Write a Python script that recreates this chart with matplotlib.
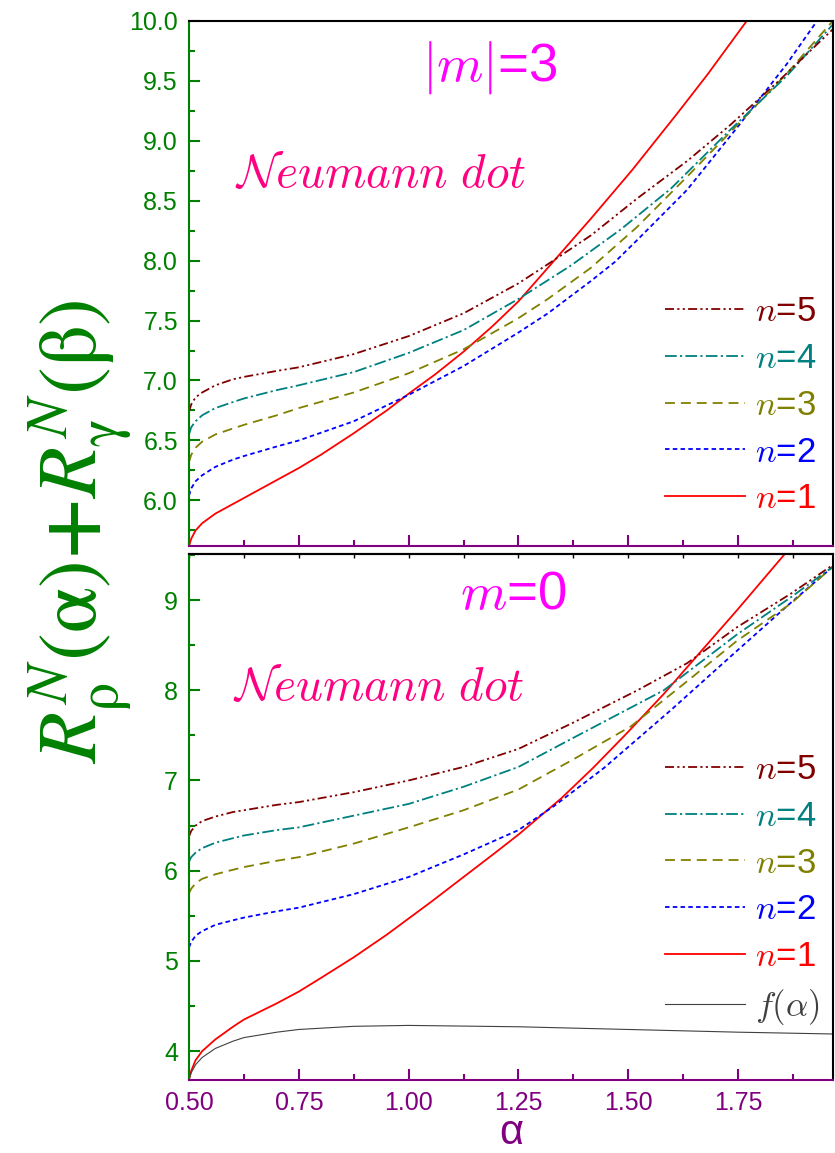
import numpy as np
import matplotlib
matplotlib.use('Agg')
import matplotlib.pyplot as plt
from matplotlib.ticker import MultipleLocator, FormatStrFormatter

plt.rcParams['font.family'] = ['Liberation Sans', 'DejaVu Sans']
plt.rcParams['mathtext.fontset'] = 'cm'

# Panel superior |m|=3
a1_m3 = [0.5, 0.505, 0.515, 0.53, 0.56, 0.6, 0.625, 0.7, 0.75, 0.8, 0.875, 0.95, 1.0, 1.06, 1.125, 1.19, 1.25, 1.317, 1.415, 1.51, 1.61, 1.68, 1.77, 1.80]
n1_m3 = [5.62, 5.68, 5.75, 5.81, 5.89, 5.97, 6.02, 6.17, 6.27, 6.38, 6.56, 6.75, 6.89, 7.05, 7.24, 7.45, 7.66, 7.94, 8.35, 8.76, 9.22, 9.55, 10.0, 10.14]
a2_m3 = [0.5, 0.505, 0.515, 0.53, 0.56, 0.6, 0.625, 0.7, 0.75, 0.875, 1.0, 1.125, 1.25, 1.317, 1.415, 1.47, 1.52, 1.634, 1.748, 1.861, 1.93, 1.95]
n2_m3 = [6.04, 6.10, 6.16, 6.21, 6.28, 6.34, 6.37, 6.45, 6.50, 6.66, 6.88, 7.12, 7.40, 7.56, 7.83, 7.99, 8.17, 8.59, 9.11, 9.64, 10.0, 10.1]
a3_m3 = [0.5, 0.505, 0.515, 0.53, 0.56, 0.6, 0.625, 0.7, 0.75, 0.875, 1.0, 1.125, 1.25, 1.317, 1.415, 1.52, 1.634, 1.748, 1.861, 1.966]
n3_m3 = [6.32, 6.38, 6.44, 6.49, 6.55, 6.60, 6.63, 6.71, 6.77, 6.90, 7.06, 7.26, 7.52, 7.68, 7.94, 8.28, 8.70, 9.13, 9.56, 10.0]
a4_m3 = [0.5, 0.505, 0.515, 0.53, 0.56, 0.6, 0.625, 0.7, 0.75, 0.875, 1.0, 1.125, 1.25, 1.37, 1.483, 1.597, 1.732, 1.861, 1.966]
n4_m3 = [6.55, 6.61, 6.66, 6.71, 6.77, 6.82, 6.85, 6.92, 6.96, 7.07, 7.23, 7.42, 7.68, 7.96, 8.26, 8.60, 9.09, 9.54, 9.97]
a5_m3 = [0.5, 0.505, 0.515, 0.53, 0.56, 0.6, 0.625, 0.7, 0.75, 0.875, 1.0, 1.125, 1.25, 1.317, 1.415, 1.521, 1.634, 1.732, 1.846, 1.966]
n5_m3 = [6.74, 6.80, 6.86, 6.90, 6.96, 7.01, 7.03, 7.08, 7.11, 7.22, 7.37, 7.56, 7.81, 7.97, 8.21, 8.52, 8.83, 9.13, 9.51, 9.93]

# Panel inferior m=0
a1_m0 = [0.5, 0.505, 0.515, 0.53, 0.56, 0.6, 0.625, 0.7, 0.75, 0.8, 0.875, 0.95, 1.0, 1.05, 1.125, 1.2, 1.25, 1.347, 1.42, 1.498, 1.581, 1.642, 1.748, 1.858, 1.87]
n1_m0 = [3.685, 3.78, 3.90, 4.00, 4.13, 4.27, 4.35, 4.53, 4.66, 4.81, 5.04, 5.29, 5.47, 5.65, 5.93, 6.21, 6.40, 6.80, 7.14, 7.53, 7.96, 8.30, 8.89, 9.52, 9.60]
a2_m0 = [0.5, 0.505, 0.515, 0.53, 0.56, 0.6, 0.625, 0.7, 0.75, 0.875, 1.0, 1.125, 1.25, 1.332, 1.445, 1.597, 1.748, 1.87, 1.966]
n2_m0 = [5.15, 5.21, 5.28, 5.33, 5.40, 5.45, 5.48, 5.55, 5.59, 5.74, 5.93, 6.18, 6.45, 6.72, 7.14, 7.78, 8.44, 8.97, 9.37]
a3_m0 = [0.5, 0.505, 0.515, 0.53, 0.56, 0.6, 0.625, 0.7, 0.75, 0.875, 1.0, 1.125, 1.25, 1.37, 1.506, 1.634, 1.748, 1.87, 1.966]
n3_m0 = [5.75, 5.80, 5.86, 5.91, 5.96, 6.01, 6.04, 6.11, 6.15, 6.30, 6.48, 6.67, 6.90, 7.22, 7.60, 8.10, 8.55, 8.96, 9.37]
a4_m0 = [0.5, 0.505, 0.515, 0.53, 0.56, 0.6, 0.625, 0.7, 0.75, 0.875, 1.0, 1.125, 1.25, 1.37, 1.581, 1.748, 1.87, 1.966]
n4_m0 = [6.10, 6.15, 6.20, 6.25, 6.31, 6.36, 6.39, 6.45, 6.48, 6.61, 6.74, 6.93, 7.15, 7.46, 8.0, 8.62, 9.03, 9.37]
a5_m0 = [0.5, 0.505, 0.515, 0.53, 0.56, 0.6, 0.625, 0.7, 0.75, 0.875, 1.0, 1.125, 1.25, 1.37, 1.521, 1.634, 1.748, 1.87, 1.966]
n5_m0 = [6.38, 6.44, 6.50, 6.55, 6.60, 6.65, 6.67, 6.73, 6.76, 6.87, 7.0, 7.15, 7.35, 7.63, 8.0, 8.30, 8.70, 9.07, 9.39]
af = [0.5, 0.505, 0.515, 0.53, 0.56, 0.6, 0.625, 0.7, 0.75, 0.875, 1.0, 1.25, 1.5, 1.75, 1.966]
f_alpha = [3.685, 3.76, 3.85, 3.93, 4.03, 4.11, 4.15, 4.21, 4.24, 4.275, 4.285, 4.27, 4.24, 4.21, 4.19]

GREEN = '#008000'
PURPLE = '#800080'
colores = ['#FF0000', '#0000FF', '#808000', '#008080', '#800000']
estilos = ['-', (0, (2.5, 1.8)), (0, (5.5, 3.3)), (0, (6.5, 1.8, 1.2, 1.8)), (0, (5, 1.8, 1.2, 1.8, 1.2, 1.8))]
etiquetas = [r'$n$=1', r'$n$=2', r'$n$=3', r'$n$=4', r'$n$=5']
LW = 1.3

fig = plt.figure(figsize=(8.35, 11.53), dpi=100)
ax1 = fig.add_axes([189/835, 1-546/1153, 644/835, (546-20.7)/1153])
ax2 = fig.add_axes([189/835, 1-1080/1153, 644/835, (1080-554)/1153])


def estilo_ejes(ax):
    for s in ['top', 'right']:
        ax.spines[s].set_color('black')
    ax.spines['left'].set_color(GREEN)
    ax.spines['bottom'].set_color(PURPLE)
    for s in ax.spines.values():
        s.set_linewidth(1.5)
    ax.set_xlim(0.5, 1.966)
    ax.xaxis.set_major_locator(MultipleLocator(0.25))
    ax.xaxis.set_minor_locator(MultipleLocator(0.125))
    ax.xaxis.set_major_formatter(FormatStrFormatter('%.2f'))
    ax.tick_params(axis='y', which='both', direction='in', colors=GREEN, labelsize=18,
                   width=1.5, pad=8, right=False)
    ax.tick_params(axis='y', which='major', length=8)
    ax.tick_params(axis='y', which='minor', length=4.5)
    ax.tick_params(axis='x', which='both', direction='in', colors=PURPLE, labelsize=18,
                   width=1.5, pad=8, top=False)
    ax.tick_params(axis='x', which='major', length=8)
    ax.tick_params(axis='x', which='minor', length=4.5)


def leyenda(ax, handles, cols, y0):
    leg = ax.legend(handles=handles, loc='upper left', bbox_to_anchor=(0.739, y0),
                    frameon=False, fontsize=25, handlelength=2.3, handletextpad=0.3,
                    labelspacing=0.4, borderpad=0, borderaxespad=0)
    for t, c in zip(leg.get_texts(), cols):
        t.set_color(c)


# Panel |m|=3
datos_m3 = [(a1_m3, n1_m3), (a2_m3, n2_m3), (a3_m3, n3_m3), (a4_m3, n4_m3), (a5_m3, n5_m3)]
lineas1 = []
for (a, v), c, ls, lab in zip(datos_m3, colores, estilos, etiquetas):
    l, = ax1.plot(a, v, color=c, ls=ls, lw=LW, label=lab)
    lineas1.append(l)
estilo_ejes(ax1)
ax1.set_ylim(5.62, 10.0)
ax1.yaxis.set_major_locator(MultipleLocator(0.5))
ax1.yaxis.set_minor_locator(MultipleLocator(0.25))
ax1.yaxis.set_major_formatter(FormatStrFormatter('%.1f'))
ax1.tick_params(axis='x', labelbottom=False)
ax1.text(0.467, 0.91, r'$|m|$=3', transform=ax1.transAxes, color='#FF00FF',
         fontsize=38, ha='center', va='center')
ax1.text(0.071, 0.706, r'$\mathcal{N}\mathit{eumann\ dot}$', transform=ax1.transAxes,
         color='#FF0080', fontsize=34, ha='left', va='center')
leyenda(ax1, lineas1[::-1], colores[::-1], 0.478)

# Panel m=0
datos_m0 = [(a1_m0, n1_m0), (a2_m0, n2_m0), (a3_m0, n3_m0), (a4_m0, n4_m0), (a5_m0, n5_m0)]
lineas2 = []
for (a, v), c, ls, lab in zip(datos_m0, colores, estilos, etiquetas):
    l, = ax2.plot(a, v, color=c, ls=ls, lw=LW, label=lab)
    lineas2.append(l)
lf, = ax2.plot(af, f_alpha, color='#404040', lw=0.8, label=r'$f(\alpha)$')
estilo_ejes(ax2)
ax2.set_ylim(3.68, 9.51)
ax2.yaxis.set_major_locator(MultipleLocator(1))
ax2.yaxis.set_minor_locator(MultipleLocator(0.5))
ax2.yaxis.set_major_formatter(FormatStrFormatter('%d'))
sec = ax2.secondary_xaxis('top')
sec.xaxis.set_major_locator(MultipleLocator(0.25))
sec.xaxis.set_minor_locator(MultipleLocator(0.125))
sec.tick_params(which='both', direction='in', length=3, width=1, colors='black', labeltop=False)
sec.spines['top'].set_linewidth(1.5)
ax2.text(0.503, 0.922, r'$m$=0', transform=ax2.transAxes, color='#FF00FF',
         fontsize=38, ha='center', va='center')
ax2.text(0.068, 0.745, r'$\mathcal{N}\mathit{eumann\ dot}$', transform=ax2.transAxes,
         color='#FF0080', fontsize=34, ha='left', va='center')
leyenda(ax2, lineas2[::-1] + [lf], colores[::-1] + ['#404040'], 0.622)

# Etiquetas de los ejes
fig.text(511/835, 1-1133/1153, 'α', color=PURPLE, fontsize=30, ha='center', va='center')
fig.text(0.097, 0.539,
         r'$R^{N}_{\mathrm{\rho}}(\mathrm{\alpha}){\mathbf{+}}R^{N}_{\mathrm{\gamma}}(\mathrm{\beta})$',
         color=GREEN, fontsize=60, rotation=90, ha='center', va='center', math_fontfamily='stix')

plt.savefig('out.png', dpi=100)
